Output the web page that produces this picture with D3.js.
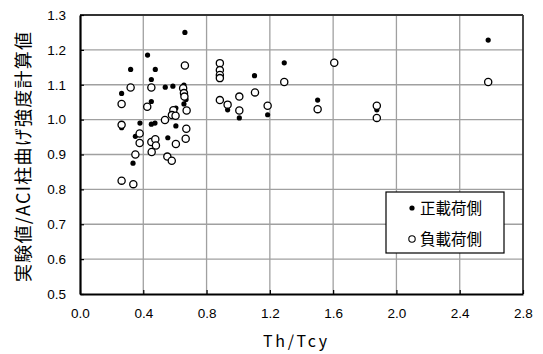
<!DOCTYPE html>
<html><head><meta charset="utf-8">
<script src="https://cdn.jsdelivr.net/npm/d3@7"></script>
<style>body{margin:0;background:#fff}svg{display:block}</style>
</head><body>
<script>
const xTicks = [0.0,0.4,0.8,1.2,1.6,2.0,2.4,2.8];
const yTicks = [0.5,0.6,0.7,0.8,0.9,1.0,1.1,1.2,1.3];
const seriesNames = ["正載荷側","負載荷側"];
const posX = [0.663,0.427,0.320,0.476,0.451,0.263,0.539,0.587,0.657,0.451,0.657,0.670,0.606,0.379,0.451,0.474,0.263,0.606,0.350,0.555,0.335,0.933,1.007,1.103,1.186,1.291,1.607,1.502,1.876,2.580];
const posY = [1.250,1.185,1.144,1.144,1.115,1.075,1.093,1.096,1.099,1.052,1.045,1.058,1.033,0.990,0.987,0.990,0.977,0.982,0.952,0.948,0.875,1.028,1.005,1.126,1.014,1.163,1.167,1.056,1.028,1.228];
const negX = [0.663,0.320,0.451,0.652,0.657,0.660,0.263,0.425,0.590,0.674,0.581,0.604,0.537,0.263,0.672,0.377,0.377,0.451,0.476,0.480,0.606,0.668,0.350,0.453,0.552,0.580,0.263,0.337,0.884,0.884,0.884,0.884,0.884,0.933,1.007,1.007,1.106,1.186,1.291,1.607,1.502,1.876,1.876,2.580];
const negY = [1.155,1.092,1.092,1.090,1.076,1.066,1.045,1.037,1.027,1.026,1.013,1.011,0.999,0.985,0.974,0.960,0.933,0.936,0.944,0.926,0.930,0.945,0.900,0.907,0.894,0.882,0.825,0.815,1.162,1.142,1.128,1.119,1.056,1.043,1.066,1.026,1.078,1.040,1.108,1.163,1.030,1.040,1.005,1.108];

const W=543,H=354, L=80, R=523, T=15, B=294;
const svg=d3.select("body").append("svg").attr("width",W).attr("height",H);
const x=d3.scaleLinear().domain([0,2.8]).range([L,R]);
const y=d3.scaleLinear().domain([0.5,1.3]).range([B,T]);
const numFont="'Liberation Sans', Arial, sans-serif";
const jpFont="'Noto Sans CJK JP', sans-serif";

// grid
svg.append("g").selectAll("line.v").data(xTicks.slice(1,-1)).join("line")
  .attr("x1",d=>x(d)).attr("x2",d=>x(d)).attr("y1",T).attr("y2",B)
  .attr("stroke","#a0a0a0").attr("stroke-width",1.3);
svg.append("g").selectAll("line.h").data(yTicks.slice(1,-1)).join("line")
  .attr("x1",L).attr("x2",R).attr("y1",d=>y(d)).attr("y2",d=>y(d))
  .attr("stroke","#a0a0a0").attr("stroke-width",1.3);

// top & right border
svg.append("line").attr("x1",L).attr("x2",R).attr("y1",T).attr("y2",T).attr("stroke","#333").attr("stroke-width",1.8);
svg.append("line").attr("x1",R).attr("x2",R).attr("y1",T).attr("y2",B).attr("stroke","#333").attr("stroke-width",1.8);

// axes
const xAxis=svg.append("g").attr("transform",`translate(0,${B})`)
  .call(d3.axisBottom(x).tickValues(xTicks).tickFormat(d3.format(".1f")).tickSizeInner(-4).tickSizeOuter(0).tickPadding(14));
const yAxis=svg.append("g").attr("transform",`translate(${L},0)`)
  .call(d3.axisLeft(y).tickValues(yTicks).tickFormat(d3.format(".1f")).tickSizeInner(-4).tickSizeOuter(0).tickPadding(14));
[xAxis,yAxis].forEach(a=>{
  a.select(".domain").attr("stroke","#000").attr("stroke-width",2.2);
  a.selectAll(".tick line").attr("stroke","#000").attr("stroke-width",1.2);
  a.selectAll("text").attr("font-family",numFont).attr("font-size",13.5).attr("fill","#000");
});

// points
svg.append("g").selectAll("circle").data(d3.range(posX.length)).join("circle")
  .attr("cx",i=>x(posX[i])).attr("cy",i=>y(posY[i])).attr("r",2.6).attr("fill","#000");
svg.append("g").selectAll("circle").data(d3.range(negX.length)).join("circle")
  .attr("cx",i=>x(negX[i])).attr("cy",i=>y(negY[i])).attr("r",3.6)
  .attr("fill","#fff").attr("stroke","#000").attr("stroke-width",1.3);

// axis titles
svg.append("text").attr("x",295).attr("y",347).attr("text-anchor","middle")
  .attr("font-family",jpFont).attr("font-size",16)
  .attr("textLength",64).attr("lengthAdjust","spacing").text("Th/Tcy");
svg.append("text").attr("transform","translate(30,157) rotate(-90)").attr("text-anchor","middle")
  .attr("font-family",jpFont).attr("font-size",18)
  .attr("textLength",250).attr("lengthAdjust","spacing").text("実験値/ACI柱曲げ強度計算値");

// legend
const lg=svg.append("g");
lg.append("rect").attr("x",386).attr("y",192).attr("width",118).attr("height",61)
  .attr("fill","#fff").attr("stroke","#000").attr("stroke-width",1.2);
lg.append("circle").attr("cx",412).attr("cy",208).attr("r",2.6).attr("fill","#000");
lg.append("circle").attr("cx",412).attr("cy",239).attr("r",3.2).attr("fill","#fff").attr("stroke","#000").attr("stroke-width",1.1);
lg.selectAll("text").data(seriesNames).join("text")
  .attr("x",420).attr("y",(d,i)=>214+i*31).attr("font-family",jpFont).attr("font-size",15.5).text(d=>d);
</script>
</body></html>
